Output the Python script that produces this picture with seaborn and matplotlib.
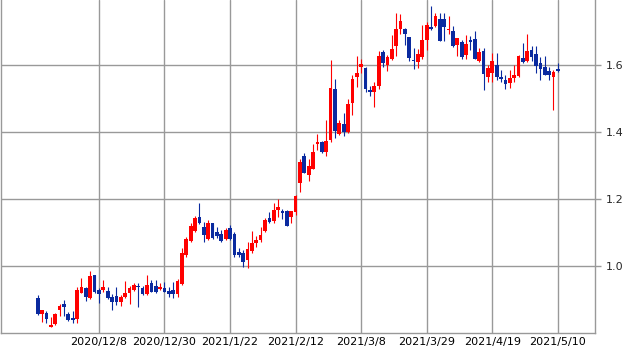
import numpy as np
import pandas as pd
import matplotlib
matplotlib.use('Agg')
import matplotlib.pyplot as plt
import seaborn as sns

# 日足 OHLC (読み取り値)
opens = [0.905, 0.858, 0.859, 0.817, 0.827, 0.869, 0.887, 0.856, 0.845, 0.843,
         0.920, 0.933, 0.905, 0.973, 0.928, 0.928, 0.925, 0.908, 0.910, 0.893,
         0.906, 0.918, 0.928, 0.938, 0.933, 0.915, 0.948, 0.940, 0.931, 0.933,
         0.926, 0.928, 0.915, 0.946, 1.033, 1.075, 1.104, 1.147, 1.117, 1.081,
         1.127, 1.102, 1.097, 1.081, 1.114, 1.097, 1.043, 1.038, 1.018, 1.044,
         1.070, 1.079, 1.104, 1.142, 1.135, 1.167, 1.165, 1.165, 1.145, 1.160,
         1.249, 1.329, 1.272, 1.291, 1.364, 1.371, 1.341, 1.376, 1.527, 1.394,
         1.424, 1.401, 1.486, 1.565, 1.595, 1.592, 1.525, 1.520, 1.538, 1.638,
         1.600, 1.617, 1.658, 1.707, 1.707, 1.683, 1.615, 1.610, 1.625, 1.675,
         1.712, 1.717, 1.737, 1.737, 1.704, 1.701, 1.660, 1.670, 1.630, 1.675,
         1.677, 1.612, 1.643, 1.565, 1.577, 1.600, 1.565, 1.555, 1.547, 1.560,
         1.567, 1.620, 1.612, 1.645, 1.633, 1.607, 1.595, 1.582, 1.565, 1.588]
highs = [0.913, 0.869, 0.866, 0.847, 0.859, 0.887, 0.898, 0.862, 0.865, 0.936,
         0.963, 0.936, 0.985, 0.973, 0.933, 0.958, 0.938, 0.915, 0.938, 0.913,
         0.956, 0.940, 0.948, 0.948, 0.940, 0.973, 0.958, 0.958, 0.948, 0.953,
         0.936, 0.953, 0.961, 1.053, 1.088, 1.127, 1.149, 1.189, 1.132, 1.137,
         1.129, 1.117, 1.107, 1.112, 1.122, 1.102, 1.053, 1.048, 1.073, 1.104,
         1.090, 1.117, 1.142, 1.160, 1.187, 1.199, 1.169, 1.167, 1.164, 1.212,
         1.318, 1.336, 1.318, 1.364, 1.393, 1.374, 1.436, 1.615, 1.558, 1.436,
         1.456, 1.499, 1.570, 1.627, 1.617, 1.595, 1.538, 1.550, 1.643, 1.645,
         1.630, 1.691, 1.754, 1.752, 1.711, 1.685, 1.650, 1.648, 1.719, 1.729,
         1.776, 1.754, 1.754, 1.754, 1.747, 1.716, 1.682, 1.675, 1.690, 1.687,
         1.702, 1.650, 1.650, 1.600, 1.635, 1.635, 1.585, 1.570, 1.585, 1.600,
         1.630, 1.665, 1.694, 1.657, 1.657, 1.625, 1.627, 1.595, 1.585, 1.607]
lows = [0.854, 0.834, 0.829, 0.817, 0.824, 0.852, 0.852, 0.836, 0.829, 0.831,
        0.918, 0.897, 0.901, 0.920, 0.890, 0.923, 0.901, 0.870, 0.885, 0.882,
        0.903, 0.887, 0.926, 0.879, 0.913, 0.913, 0.921, 0.918, 0.928, 0.921,
        0.908, 0.903, 0.908, 0.942, 1.026, 1.072, 1.100, 1.125, 1.071, 1.078,
        1.080, 1.085, 1.073, 1.078, 1.078, 1.028, 1.026, 0.998, 0.993, 1.040,
        1.058, 1.073, 1.102, 1.129, 1.127, 1.147, 1.139, 1.119, 1.129, 1.152,
        1.222, 1.277, 1.255, 1.289, 1.346, 1.338, 1.328, 1.371, 1.381, 1.391,
        1.389, 1.396, 1.451, 1.533, 1.575, 1.520, 1.507, 1.474, 1.528, 1.595,
        1.583, 1.615, 1.628, 1.694, 1.660, 1.612, 1.588, 1.590, 1.617, 1.645,
        1.704, 1.714, 1.673, 1.673, 1.694, 1.655, 1.628, 1.617, 1.617, 1.645,
        1.617, 1.610, 1.525, 1.550, 1.550, 1.555, 1.550, 1.527, 1.530, 1.550,
        1.565, 1.607, 1.610, 1.613, 1.577, 1.555, 1.570, 1.555, 1.466, 1.580]
closes = [0.858, 0.869, 0.841, 0.824, 0.856, 0.882, 0.878, 0.839, 0.839, 0.927,
          0.936, 0.908, 0.970, 0.923, 0.916, 0.938, 0.903, 0.893, 0.893, 0.908,
          0.918, 0.933, 0.942, 0.936, 0.916, 0.943, 0.923, 0.921, 0.936, 0.923,
          0.915, 0.915, 0.955, 1.040, 1.081, 1.119, 1.143, 1.127, 1.092, 1.127,
          1.083, 1.090, 1.076, 1.107, 1.081, 1.033, 1.033, 1.011, 1.051, 1.070,
          1.077, 1.092, 1.137, 1.132, 1.167, 1.175, 1.159, 1.120, 1.164, 1.209,
          1.311, 1.279, 1.298, 1.341, 1.370, 1.341, 1.373, 1.530, 1.404, 1.426,
          1.399, 1.484, 1.558, 1.577, 1.603, 1.527, 1.520, 1.537, 1.627, 1.607,
          1.625, 1.648, 1.707, 1.731, 1.694, 1.622, 1.612, 1.633, 1.675, 1.719,
          1.707, 1.747, 1.673, 1.714, 1.707, 1.658, 1.680, 1.625, 1.663, 1.670,
          1.618, 1.638, 1.573, 1.592, 1.612, 1.565, 1.558, 1.542, 1.560, 1.570,
          1.627, 1.608, 1.643, 1.625, 1.598, 1.588, 1.570, 1.570, 1.580, 1.583]

tick_labels = ['2020/12/8', '2020/12/30', '2021/1/22', '2021/2/12',
               '2021/3/8', '2021/3/29', '2021/4/19', '2021/5/10']
y_ticks = [1.0, 1.2, 1.4, 1.6]

df = pd.DataFrame({'open': opens, 'high': highs, 'low': lows, 'close': closes})
df['idx'] = np.arange(len(df))
df['bottom'] = df[['open', 'close']].min(axis=1)
df['body'] = (df['close'] - df['open']).abs().clip(lower=0.003)
df['up'] = df['close'] >= df['open']

sns.set_style('white')
fig = plt.figure(figsize=(6.34, 3.53), dpi=100)
ax = fig.add_axes([1 / 634, 20 / 353, 594 / 634, 333 / 353])

RED = '#ff0000'
BLUE = '#0a2a9f'
for up, col in [(True, RED), (False, BLUE)]:
    sub = df[df['up'] == up].sort_values('idx')
    ax.vlines(sub['idx'], sub['low'], sub['high'], color=col, lw=0.8, zorder=2)
    sns.barplot(data=sub, x='idx', y='body', bottom=sub['bottom'].values,
                native_scale=True, color=col, saturation=1, width=0.85,
                errorbar=None, linewidth=0, ax=ax, zorder=3)

ax.set_xlim(-8.4, 127.5)
ax.set_ylim(0.8, 1.794)
ax.set_xticks(np.arange(14, len(df), 15))
ax.set_xticklabels(tick_labels)
ax.set_yticks(y_ticks)
ax.set_yticklabels([f'{v:.1f}' for v in y_ticks])
ax.yaxis.tick_right()
ax.set_xlabel('')
ax.set_ylabel('')

ax.grid(True, color='#999999', lw=1.0)
ax.set_axisbelow(True)
ax.tick_params(axis='x', length=0, pad=3, labelsize=8, colors='black')
ax.tick_params(axis='y', length=4, width=1, color='#999999', pad=4, labelsize=8)
ax.spines['top'].set_visible(False)
for s in ['left', 'right', 'bottom']:
    ax.spines[s].set_color('#999999')
    ax.spines[s].set_linewidth(1.0)

fig.savefig('out.png', dpi=100)
